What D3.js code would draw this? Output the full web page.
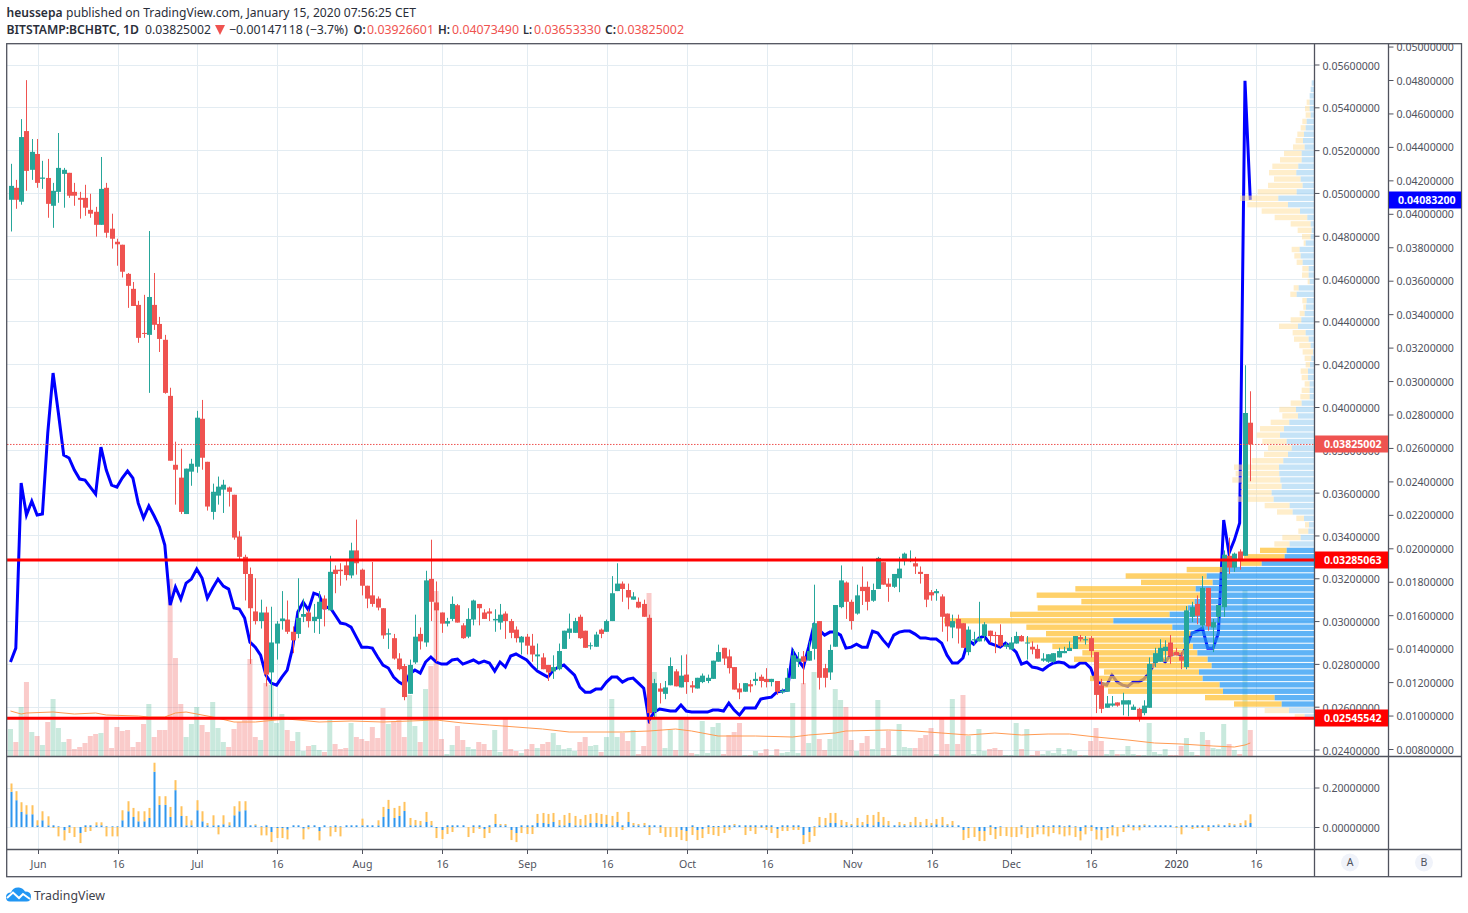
<!DOCTYPE html>
<html><head><meta charset="utf-8">
<script src="https://cdn.jsdelivr.net/npm/d3@7"></script>
<style>html,body{margin:0;padding:0;background:#fff}svg{display:block}text{font-family:"Noto Sans",sans-serif}</style>
</head><body><div id="c"></div>
<script>
// Prices in thousandths of a BTC
const opens=[49.68,50.24,49.59,52.89,51.08,51.82,50.66,50.7,49.4,50.05,50.89,50.94,50.05,49.77,49.77,49.21,49.12,48.51,50.24,48.33,47.72,47.58,46.22,45.52,44.77,43.46,43.37,44.77,43.88,43.14,40.52,37.3,36.7,35.0,36.98,37.21,39.45,37.44,35.1,35.86,36.14,36.24,35.9,33.95,33.0,32.2,30.45,30.0,30.4,27.6,28.95,30.0,30.07,29.5,29.4,30.2,30.4,30.0,30.1,31.05,30.5,32.4,32.4,32.6,32.13,33.3,32.4,31.65,31.2,31.05,30.6,29.37,29.2,28.25,27.9,26.6,28.07,29.4,29.0,31.97,30.87,30.4,29.88,30.1,30.74,29.8,29.27,30.07,30.8,30.4,30.45,30.03,29.93,30.35,30.0,29.6,29.0,29.27,28.85,28.35,28.3,27.95,27.65,27.75,28.7,29.45,29.45,30.2,29.55,28.83,28.8,29.6,29.5,30.0,31.4,31.75,31.45,31.0,30.9,30.8,30.15,25.75,26.85,26.6,27.0,27.65,26.9,27.5,27.0,26.85,27.15,27.2,27.3,28.1,28.75,28.35,27.85,26.85,26.7,27.05,27.2,27.4,27.3,27.15,27.2,26.67,26.7,27.3,28.1,28.35,28.15,28.7,30.0,27.8,27.6,28.8,30.65,31.8,30.9,30.35,31.6,31.6,30.95,31.5,32.75,31.75,31.6,32.0,32.8,32.8,32.7,32.3,32.2,31.35,31.3,31.15,30.35,29.7,30.1,29.9,28.55,29.1,29.05,29.3,29.55,29.35,29.35,28.8,28.67,28.95,29.3,28.95,28.8,28.7,28.15,28.1,28.1,28.3,28.5,28.6,28.7,29.25,29.1,29.2,28.55,27.0,25.95,26.05,26.2,26.1,26.1,25.85,25.9,25.7,25.95,28.05,28.1,28.6,29.0,28.55,28.35,27.85,30.2,30.8,29.8,31.55,29.7,30.2,30.65,33.05,32.5,33.25,33.05,39.266];
const highs=[51.36,50.61,53.45,55.27,52.52,52.52,51.5,51.59,50.47,52.8,51.17,50.94,50.47,50.05,50.38,49.96,49.35,51.68,50.47,49.03,47.86,47.58,46.26,45.84,44.96,45.24,48.22,46.26,44.21,43.37,40.9,38.38,38.05,37.12,37.58,39.82,40.33,37.44,36.42,36.75,36.6,36.28,35.9,34.2,33.1,32.5,32.0,31.0,30.67,30.67,30.0,31.4,30.96,29.75,32.0,31.05,30.55,30.8,31.4,31.2,33.05,32.6,32.7,32.87,33.66,34.74,32.45,31.65,32.76,31.15,30.6,29.65,29.4,28.5,28.0,28.2,30.3,29.7,32.35,33.8,31.85,30.4,30.15,31.15,30.8,29.9,30.6,31.0,30.8,30.55,30.6,30.55,30.8,30.45,30.1,29.75,29.3,29.4,29.4,28.95,28.5,27.95,28.4,28.95,29.55,30.35,30.15,30.3,29.55,29.0,29.5,29.65,30.07,32.1,32.7,31.85,31.75,31.35,31.1,31.0,30.3,27.3,27.1,27.2,28.3,27.75,28.4,28.44,27.2,27.35,27.55,27.5,28.15,28.9,28.75,28.67,27.85,27.1,27.1,27.25,27.6,27.5,27.8,27.3,27.2,26.85,27.8,28.7,28.55,28.6,29.05,31.7,30.0,28.0,28.9,30.75,32.6,31.85,31.0,31.7,32.55,31.85,31.75,33.0,32.75,32.0,32.2,33.0,33.2,33.3,33.0,32.55,32.2,31.45,31.5,31.25,30.35,30.3,30.3,29.9,29.75,29.5,30.9,29.95,29.55,29.5,29.85,29.0,29.25,29.5,29.35,29.3,29.05,28.9,28.5,28.45,28.5,28.75,28.8,29.05,29.3,29.35,29.3,29.3,28.55,27.3,26.5,26.5,26.2,26.65,26.3,26.1,25.95,26.3,28.3,28.75,29.15,29.1,29.35,28.75,28.55,30.7,30.9,31.2,32.1,31.55,30.1,30.75,33.3,33.9,33.2,33.35,41.95,40.735];
const lows=[48.2,49.26,49.45,50.1,50.61,50.24,50.19,48.84,48.37,49.54,49.31,49.77,49.4,48.8,48.93,48.84,47.96,48.51,47.91,47.4,46.6,46.05,44.63,44.72,43.0,43.23,40.66,43.6,42.57,40.62,37.49,35.44,35.0,35.0,36.32,36.93,37.07,35.16,34.74,35.44,35.05,35.35,33.8,32.88,30.96,28.0,29.84,29.65,26.95,25.5,28.2,29.6,29.4,28.5,29.2,29.95,29.7,29.45,29.4,29.75,30.5,31.3,31.65,31.9,32.0,32.17,31.2,30.6,30.67,30.5,29.17,28.7,28.2,27.7,26.3,26.6,28.0,28.67,28.8,30.0,28.1,29.45,29.75,30.0,29.93,29.17,29.2,29.8,29.8,30.1,30.0,29.5,29.6,29.17,29.2,29.0,28.44,28.44,28.1,27.75,27.75,27.2,27.3,27.7,28.7,29.17,29.45,29.17,28.75,28.67,28.8,29.2,29.5,30.0,31.4,30.9,30.55,31.0,30.6,30.2,25.2,25.5,26.15,26.35,27.0,26.95,26.9,26.6,26.65,26.85,27.1,27.1,27.3,28.1,27.95,27.55,26.8,26.35,26.7,26.67,27.0,26.9,26.9,26.95,26.55,26.6,26.7,27.3,27.85,27.05,28.15,28.2,26.8,26.9,27.25,28.8,30.6,30.1,29.6,30.3,30.75,30.5,30.9,31.5,31.7,30.9,31.55,31.35,32.6,32.75,32.2,31.75,30.65,30.95,30.95,29.5,29.05,29.2,28.95,28.75,28.4,28.9,29.05,29.05,29.0,28.5,28.8,28.7,28.67,28.95,29.05,28.2,28.45,28.25,28.1,28.05,28.05,28.3,28.5,28.6,28.7,29.05,28.9,28.3,25.7,25.7,25.95,26.0,26.0,25.6,25.55,25.85,25.3,25.6,25.95,27.85,28.1,28.1,28.0,28.4,27.75,27.75,29.95,29.85,29.65,29.55,28.55,29.95,30.2,32.2,32.3,32.4,33.05,36.533];
const closes=[50.33,49.68,52.61,51.03,51.92,50.47,50.72,49.49,50.1,51.17,51.08,49.87,49.87,49.68,49.31,49.03,48.51,50.19,48.14,47.86,47.6,46.32,45.66,44.72,43.23,43.42,45.14,43.84,43.18,40.66,37.49,37.07,35.1,37.12,37.35,39.5,37.63,35.35,36.04,36.28,36.37,36.04,33.9,33.0,32.2,30.6,30.0,30.4,27.5,29.0,29.88,30.12,29.5,29.1,30.15,30.33,30.0,30.2,30.9,30.55,32.3,32.2,32.33,32.15,33.3,32.7,31.65,31.05,30.8,30.63,29.33,29.43,28.25,27.75,26.45,27.95,29.27,29.05,31.9,30.9,30.5,29.88,30.0,30.8,29.93,29.2,30.1,30.96,30.6,30.1,30.35,30.1,30.3,30.0,29.45,29.2,29.27,28.85,28.44,28.44,27.75,27.6,27.85,28.6,29.55,29.65,30.0,29.2,28.75,28.87,29.37,29.4,30.0,31.3,31.75,31.5,31.1,31.15,30.63,30.2,25.7,27.1,26.7,26.9,27.9,26.95,27.45,27.15,26.9,27.35,27.45,27.35,28.15,28.55,28.25,27.8,26.8,26.67,27.1,26.95,27.3,27.2,27.15,27.3,26.7,26.75,27.35,28.4,28.25,28.1,28.6,29.9,27.35,27.35,28.65,30.75,31.9,30.9,30.0,31.2,31.4,30.9,31.45,32.95,31.7,31.6,32.2,32.45,33.15,32.9,32.55,32.2,31.0,31.2,31.4,30.2,29.75,30.0,29.65,28.75,29.6,29.15,29.2,29.85,29.3,29.3,28.85,28.9,29.0,29.3,29.05,29.0,28.67,28.25,28.25,28.45,28.5,28.6,28.6,28.75,29.3,29.15,29.15,28.6,26.55,25.9,26.15,26.15,26.05,26.3,26.3,26.0,25.45,26.05,28.0,28.5,28.75,28.8,28.35,28.4,28.15,30.5,30.65,30.25,31.55,29.75,29.95,30.75,33.1,32.5,33.15,32.8,39.72,38.25];
const volumes=[27,14,49,74,24,20,11,34,57,28,14,17,7,9,13,20,22,23,37,8,29,25,26,9,14,32,52,19,26,26,177,98,52,19,32,49,31,24,54,28,14,9,27,34,36,97,19,16,73,71,33,42,26,15,24,5,10,11,6,4,36,12,7,8,33,19,17,15,29,18,48,32,35,36,19,61,30,14,67,90,165,17,2,11,30,16,9,7,14,12,6,26,4,37,7,5,3,7,12,8,12,14,23,11,7,8,5,14,19,10,11,4,19,57,19,23,15,26,2,10,163,84,38,8,26,6,37,37,3,2,35,3,29,33,2,21,24,33,1,1,5,3,7,1,7,3,4,53,3,73,13,84,17,6,17,67,56,49,16,5,13,20,7,56,8,25,1,32,9,8,8,18,21,28,2,37,12,57,12,61,20,2,27,5,7,8,6,1,1,33,7,27,1,5,2,5,3,8,2,7,5,1,1,15,28,15,2,6,2,2,10,2,1,1,33,4,2,7,1,1,10,18,4,1,24,16,8,7,32,12,6,2,166,26];
// Volume moving average: bar number and value pairs
const maBars=[0,2,3,8,12,16,18,24,26,29,31,33,38,42,46,50,52,58,64,70,75,80,85,90,95,100,105,115,120,125,128,130,133,140,147,150,155,157,165,170,175,180,185,190,195,199,204,210,215,220,226,230,232,233];
const maVals=[45,42,43,44,42,43,41,40,39,39,43,44,39,34,34,36,37,34,35,34,35,36,33,31,29,27,24,24,25,27,25,23,20,20,19,21,23,25,26,25,23,21,23,21,22,22,19,16,13,12,10,9,11,13];
// Line drawn on the left-hand (B) scale
const blueLine=[13.2,14.03,23.9,21.99,22.82,21.99,22.05,26.89,30.48,28.09,25.57,25.4,24.68,24.14,24.08,23.66,23.24,26.05,24.68,23.78,23.66,24.2,24.62,24.2,22.7,21.81,22.53,21.93,21.27,20.19,16.6,17.68,16.96,17.92,18.16,18.76,18.22,17.02,17.62,18.16,17.74,17.56,16.43,16.37,15.83,14.39,14.09,13.61,12.42,11.94,11.82,12.3,12.72,14.03,16.19,16.78,16.31,17.32,17.2,16.43,16.49,16.01,15.53,15.47,15.29,14.69,14.09,14.09,14.03,13.5,13.02,12.84,12.3,12.0,11.82,12.48,12.72,12.54,13.2,13.5,13.2,13.08,13.08,13.32,13.38,13.08,13.2,13.32,13.14,13.26,13.14,12.66,13.2,12.9,13.56,13.68,13.5,13.32,12.96,12.66,12.48,12.3,12.72,12.9,13.02,12.72,12.42,11.7,11.4,11.4,11.58,11.58,12,12.3,12.3,12,12.18,12.24,11.94,11.64,9.73,10.21,10.39,10.33,10.27,10.27,10.63,10.27,10.21,10.21,10.21,10.21,10.33,10.33,10.27,10.75,10.33,10.03,10.45,10.45,10.45,10.99,11.05,11.1,11.4,11.46,11.52,13.86,13.32,12.9,14.09,15.41,15.11,14.81,14.99,14.99,14.81,14.03,14.09,14.27,14.09,14.09,15.05,14.93,14.51,14.15,14.81,14.99,15.05,15.05,14.87,14.63,14.63,14.57,14.57,14.33,13.61,13.14,13.14,13.44,14.51,14.27,14.63,14.75,14.33,14.21,14.09,14.33,14.09,13.79,13.08,13.2,12.9,12.84,12.72,12.96,13.14,13.2,13.14,12.9,12.9,13.14,13.14,12.84,12,11.94,11.82,12.42,12,11.82,11.76,12,12,12.18,12.54,13.14,13.5,13.2,13.61,13.73,13.61,14.09,14.93,15.05,15.23,14.03,14.03,14.93,21.69,19.71,20.49,21.51,47.95,40.832];
// Lower pane histogram, in units of 0.2/118
const histBlue=[105,80,45,38,38,5,20,5,5,2,-10,5,0,-18,5,5,5,5,2,2,2,20,47,30,17,17,27,165,66,66,30,110,33,5,5,50,17,5,5,5,8,5,35,47,50,5,5,2,5,-15,-3,-3,-8,5,5,-5,5,5,-12,5,2,5,2,5,5,5,5,5,5,5,30,54,27,33,48,5,5,5,15,5,-3,-9,5,5,5,5,0,5,5,-6,5,9,5,5,-9,-18,5,5,5,12,12,9,15,5,5,12,5,5,5,12,12,9,9,5,15,5,15,5,5,5,5,5,5,0,0,0,-9,-12,5,-9,-6,5,3,3,5,5,5,5,5,5,5,5,5,5,-6,5,5,5,5,-24,-15,2,5,5,12,12,5,5,5,5,5,9,5,15,5,5,5,5,5,5,5,5,5,5,8,5,5,5,5,-9,-3,0,-12,-12,5,-6,2,0,0,0,5,-2,0,5,5,2,5,5,2,5,2,-12,5,5,-8,-10,-5,5,0,5,5,5,5,5,5,5,5,5,5,2,5,5,5,5,5,5,5,5,5,5,5,5,5,12];
const histTotal=[130,107,74,65,65,20,47,32,-3,-28,-40,-18,-30,-48,-15,-12,14,14,-28,-28,-28,50,77,57,47,47,57,192,92,92,60,140,62,33,20,80,47,12,35,-22,35,14,62,77,77,5,8,-25,-25,-45,-33,-33,-37,5,5,-37,-7,5,-40,5,-28,-15,-28,5,5,5,25,5,5,20,60,81,57,63,75,27,21,18,45,18,-33,-36,-21,-15,5,5,-30,-18,-6,-33,-18,39,9,9,-39,-45,-18,-21,-21,39,42,39,42,21,36,42,33,24,36,39,42,39,36,33,45,-9,45,12,9,12,-24,5,-18,-30,-30,-30,-39,-42,-24,-39,-33,-21,-24,-27,-18,-9,9,5,-24,-12,-21,-3,-9,-18,-33,-12,-12,-9,-9,-51,-45,-27,30,27,42,42,21,15,9,27,15,36,36,45,30,18,5,15,9,15,30,15,24,12,24,30,9,18,5,-39,-33,-30,-42,-42,-24,-36,-27,-27,-30,-30,-22,-33,-30,-22,-22,-28,-18,-22,-28,-25,-30,-40,-22,-12,-37,-40,-33,-25,-28,-15,8,-10,-10,8,5,5,5,5,5,-3,-22,5,-6,-3,-3,-12,5,8,5,12,8,12,20,38];
// Visible-range volume profile, top row first
const vpUp=[7,10,13,13,13,10,22,25,30,33,28,37,37,47,53,40,34,52,107,78,42,20,10,7,10,25,43,40,34,16,16,13,46,52,22,24,28,38,48,25,16,10,3,8,12,18,18,13,13,13,37,54,48,74,90,102,82,67,78,92,105,104,101,97,127,121,73,64,30,15,17,40,73,82,88,157,265,322,304,355,340,358,378,433,602,425,370,392,363,350,319,307,345,334,283,273,118,97,75,28];
const vpTotal=[7,10,13,22,27,25,35,40,50,55,63,90,102,125,135,120,138,169,222,200,157,118,70,49,36,31,67,59,52,35,36,19,61,71,35,32,43,70,105,64,60,44,34,28,25,40,37,28,37,41,70,104,95,130,162,172,155,138,150,187,240,235,245,220,220,230,148,111,53,27,47,95,119,162,210,220,382,565,519,716,832,698,829,912,1110,863,804,864,785,695,720,645,630,672,640,618,327,240,148,58];
const valueAreaFirst=73, valueAreaLast=97;
const priceTicksA=[24,26,28,30,32,34,36,38,40,42,44,46,48,50,52,54,56];
const priceTicksB=[8,10,12,14,16,18,20,22,24,26,28,30,32,34,36,38,40,42,44,46,48,50];
const histTicks=[0,0.2];
const dateTicks=[["2019-06-01","Jun"],["2019-06-16","16"],["2019-07-01","Jul"],["2019-07-16","16"],["2019-08-01","Aug"],["2019-08-16","16"],["2019-09-01","Sep"],["2019-09-16","16"],["2019-10-01","Oct"],["2019-10-16","16"],["2019-11-01","Nov"],["2019-11-16","16"],["2019-12-01","Dec"],["2019-12-16","16"],["2020-01-01","2020"],["2020-01-16","16"]];
const resistance=32.85063, support=25.45542, lastClose=38.25002, lastBlue=40.832;

const UP="#26a69a",DOWN="#ef5350",TXT="#50535e",GRID="#e3ecf2",FRAME="#50535e";
const W=1468,H=913,L=7,R=1314,T=44,B=756,HB=849,AX=1388,RR=1461,BOT=877;
const svg=d3.select("#c").append("svg").attr("width",W).attr("height",H);
const start=new Date(Date.UTC(2019,4,27));
const dates=opens.map((_,i)=>d3.utcDay.offset(start,i));
const x=d3.scaleUtc().domain([dates[0],dates[dates.length-1]]).range([10.5,1250.3]);
const yA=d3.scaleLinear().domain([56,24]).range([64.5,749.5]);
const yB=d3.scaleLinear().domain([48,8]).range([80,749]);
const yH=d3.scaleLinear().domain([0,0.2]).range([827,787.5]);
const unitH=0.2/118;
const yV=d3.scaleLinear().domain([0,712]).range([B,T]);
const vpX=d3.scaleLinear().domain([0,1110]).range([0,370]);
const vpY=d3.scaleBand().domain(d3.range(vpUp.length)).range([yA(55.26),yA(25.4)]).paddingInner(0.16);

svg.append("clipPath").attr("id","pane").append("rect").attr("x",L).attr("y",T).attr("width",R-L).attr("height",B-T);
const main=svg.append("g").attr("clip-path","url(#pane)");
const snap=v=>Math.round(v)+0.5;
const gx=d=>snap(x(new Date(d+"T00:00:00Z"))+0.6);
// grid
const gridV=svg.insert("g",":first-child");
gridV.selectAll("line").data(dateTicks).join("line").attr("x1",d=>gx(d[0])).attr("x2",d=>gx(d[0])).attr("y1",T).attr("y2",HB).attr("stroke",GRID);
gridV.selectAll("line.h").data(priceTicksA).join("line").attr("class","h").attr("x1",L).attr("x2",R).attr("y1",d=>snap(yA(d))).attr("y2",d=>snap(yA(d))).attr("stroke",GRID);
gridV.selectAll("line.p").data(histTicks).join("line").attr("class","p").attr("x1",L).attr("x2",R).attr("y1",d=>snap(yH(d))).attr("y2",d=>snap(yH(d))).attr("stroke",GRID);
// volume
main.append("g").selectAll("rect").data(volumes).join("rect")
 .attr("x",(d,i)=>x(dates[i])-2.5).attr("width",5).attr("y",d=>yV(d)).attr("height",d=>B-yV(d))
 .attr("fill",(d,i)=>closes[i]>=opens[i]?"rgba(38,166,120,.25)":"rgba(239,83,80,.3)");
main.append("path").datum(maBars).attr("fill","none").attr("stroke","#ff9a52").attr("stroke-width",1)
 .attr("d",d3.line().x(i=>x(dates[i])).y((i,k)=>yV(maVals[k])));
// blue line
main.append("path").datum(blueLine).attr("fill","none").attr("stroke","#0000ff").attr("stroke-width",3).attr("stroke-linejoin","miter")
 .attr("d",d3.line().x((d,i)=>x(dates[i])).y(d=>yB(d)));
// volume profile
const vp=main.append("g");
const inVA=r=>r>=valueAreaFirst&&r<=valueAreaLast;
vp.selectAll("rect.o").data(vpTotal).join("rect").attr("class","o")
 .attr("x",d=>R-vpX(d)).attr("y",(d,r)=>vpY(r)).attr("height",vpY.bandwidth()).attr("width",(d,r)=>vpX(d)-vpX(vpUp[r]))
 .attr("fill",(d,r)=>inVA(r)?"rgba(255,193,55,.75)":"rgba(255,224,160,.55)");
vp.selectAll("rect.b").data(vpUp).join("rect").attr("class","b")
 .attr("x",d=>R-vpX(d)).attr("y",(d,r)=>vpY(r)).attr("height",vpY.bandwidth()).attr("width",d=>vpX(d))
 .attr("fill",(d,r)=>inVA(r)?"rgba(33,150,243,.72)":"rgba(144,202,240,.52)");
// candles
const cg=main.append("g");
cg.selectAll("line").data(opens).join("line").attr("x1",(d,i)=>Math.round(x(dates[i]))+0.5).attr("x2",(d,i)=>Math.round(x(dates[i]))+0.5)
 .attr("y1",(d,i)=>yA(highs[i])).attr("y2",(d,i)=>yA(lows[i])).attr("stroke",(d,i)=>closes[i]>=d?UP:DOWN);
cg.selectAll("rect").data(opens).join("rect").attr("x",(d,i)=>Math.round(x(dates[i]))-2).attr("width",5)
 .attr("y",(d,i)=>yA(Math.max(d,closes[i]))).attr("height",(d,i)=>Math.max(1,Math.abs(yA(d)-yA(closes[i]))))
 .attr("fill",(d,i)=>closes[i]>=d?UP:DOWN);
// horizontal levels
main.append("line").attr("x1",L).attr("x2",R).attr("y1",yA(lastClose)).attr("y2",yA(lastClose)).attr("stroke",DOWN).attr("stroke-dasharray","1.5 1.5");
main.selectAll("line.lv").data([resistance,support]).join("line").attr("class","lv").attr("x1",L).attr("x2",R).attr("y1",d=>yA(d)).attr("y2",d=>yA(d)).attr("stroke","#ff0000").attr("stroke-width",3);
// histogram
const hg=svg.append("g");
hg.selectAll("rect.b").data(histBlue).join("rect").attr("class","b").attr("x",(d,i)=>Math.round(x(dates[i]))-0.5).attr("width",2)
 .attr("y",d=>yH(Math.max(0,d*unitH))).attr("height",d=>Math.abs(yH(d*unitH)-yH(0))).attr("fill","#2f96ee");
hg.selectAll("rect.t").data(histTotal).join("rect").attr("class","t").attr("x",(d,i)=>Math.round(x(dates[i]))-0.5).attr("width",2)
 .attr("y",(d,i)=>{const b=histBlue[i],a=b*d<0?0:b;return yH(Math.max(a,d)*unitH)})
 .attr("height",(d,i)=>{const b=histBlue[i],a=b*d<0?0:b;return Math.abs(yH(d*unitH)-yH(a*unitH))}).attr("fill","#ffc25c");
// axes
function styleAxis(g){g.select(".domain").remove();g.selectAll(".tick line").attr("stroke",FRAME);g.selectAll(".tick text").attr("fill",TXT).attr("font-size",10.6).style("font-family",'"Noto Sans",sans-serif');}
const fmt=v=>(v/1000).toFixed(8);
const nudge=(g,e)=>g.selectAll(".tick text").attr("dy",e);
svg.append("g").attr("transform",`translate(${R+0.5},0)`).call(d3.axisRight(yA).tickValues(priceTicksA).tickFormat(fmt).tickSize(5).tickPadding(3)).call(styleAxis).call(nudge,"0.43em");
svg.append("g").attr("transform",`translate(${AX+0.5},0)`).call(d3.axisRight(yB).tickValues(priceTicksB).tickFormat(fmt).tickSize(5).tickPadding(3)).call(styleAxis).call(nudge,"0.38em");
svg.append("g").attr("transform",`translate(${R+0.5},0)`).call(d3.axisRight(yH).tickValues(histTicks).tickFormat(d3.format(".8f")).tickSize(5).tickPadding(3)).call(styleAxis).call(nudge,"0.4em");
const dx=d3.scaleUtc().domain(x.domain()).range(x.range());
const dAxis=svg.append("g").attr("transform",`translate(0,${HB})`).call(d3.axisBottom(dx).tickValues(dateTicks.map(d=>new Date(d[0]+"T00:00:00Z"))).tickFormat((d,i)=>dateTicks[i][1]).tickSize(5).tickPadding(6)).call(styleAxis);
dAxis.selectAll(".tick").attr("transform",(d,i)=>`translate(${gx(dateTicks[i][0])},0)`);
dAxis.selectAll(".tick text").filter((d,i)=>dateTicks[i][1]==="2020").attr("font-weight",500);
// frame
const fr=svg.append("g").attr("stroke",FRAME).attr("stroke-width",1.3).attr("fill","none");
fr.append("rect").attr("x",6.7).attr("y",43.7).attr("width",RR-6.2).attr("height",BOT-44);
[[R+.5,44,R+.5,BOT],[AX+.5,44,AX+.5,BOT],[7,B+.5,RR,B+.5],[7,HB+.5,RR,HB+.5]].forEach(a=>fr.append("line").attr("x1",a[0]).attr("y1",a[1]).attr("x2",a[2]).attr("y2",a[3]));
// pills
function pill(px,v,yS,col,w){const y=yS(v),g=svg.append("g");
 g.append("rect").attr("x",px).attr("y",Math.round(y)-8.5).attr("width",w).attr("height",17).attr("fill",col);
 g.append("text").attr("x",px+9).attr("y",y).attr("dy","0.37em").attr("fill","#fff").attr("font-size",10.6).attr("font-weight",700).text(fmt(v));}
pill(R+1,lastClose,yA,DOWN,73);pill(R+1,resistance,yA,"#ff0000",73);pill(R+1,support,yA,"#ff0000",73);pill(AX+1,lastBlue,yB,"#0000ff",72);
// A / B buttons
[["A",1350],["B",1424]].forEach(a=>{svg.append("circle").attr("cx",a[1]).attr("cy",862.5).attr("r",9).attr("fill","#f0f3fa");
 svg.append("text").attr("x",a[1]).attr("y",862.5).attr("dy","0.35em").attr("text-anchor","middle").attr("font-size",10.5).attr("fill",TXT).text(a[0]);});
// header
const hdr=[[6.5,13,"heussepa",600,"#2a2e39",56],[66,13,"published on TradingView.com, January 15, 2020 07:56:25 CET",400,"#2a2e39",350],
[6.5,34,"BITSTAMP:BCHBTC, 1D",600,"#2a2e39",132.5],[145,34,"0.03825002",400,"#2a2e39",66],[229,34,"−0.00147118 (−3.7%)",400,"#2a2e39",119],
[353.5,34,"O:",600,"#2a2e39",12],[367,34,"0.03926601",400,DOWN,67],[438,34,"H:",600,"#2a2e39",12],[452,34,"0.04073490",400,DOWN,67],
[523,34,"L:",600,"#2a2e39",9],[534,34,"0.03653330",400,DOWN,67],[605,34,"C:",600,"#2a2e39",11],[617,34,"0.03825002",400,DOWN,67]];
svg.append("g").selectAll("text").data(hdr).join("text").attr("x",d=>d[0]).attr("y",d=>d[1]==13?17:34).attr("font-size",12.5).attr("font-weight",d=>d[3]).attr("fill",d=>d[4]).attr("textLength",d=>d[5]).attr("lengthAdjust","spacingAndGlyphs").text(d=>d[2]);
svg.append("path").attr("d","M215 25L225 25L220 35Z").attr("fill",DOWN);
// logo
const logo=svg.append("g");
logo.append("path").attr("fill","#2196f3").attr("d","M6 897Q6 892.5 11 892.5Q13 887 19 887.5Q23 888 25 891.5Q31 891.5 31 896.5Q31 901.5 26.5 901.5L10 901.5Q6 901.5 6 897Z");
logo.append("path").attr("fill","none").attr("stroke","#fff").attr("stroke-width",2).attr("d","M7 898L13 892.5L19 898L23 894L30 899");
logo.append("text").attr("x",34).attr("y",900).attr("font-size",13).attr("fill","#3f424c").attr("textLength",71).attr("lengthAdjust","spacingAndGlyphs").text("TradingView");
</script></body></html>
